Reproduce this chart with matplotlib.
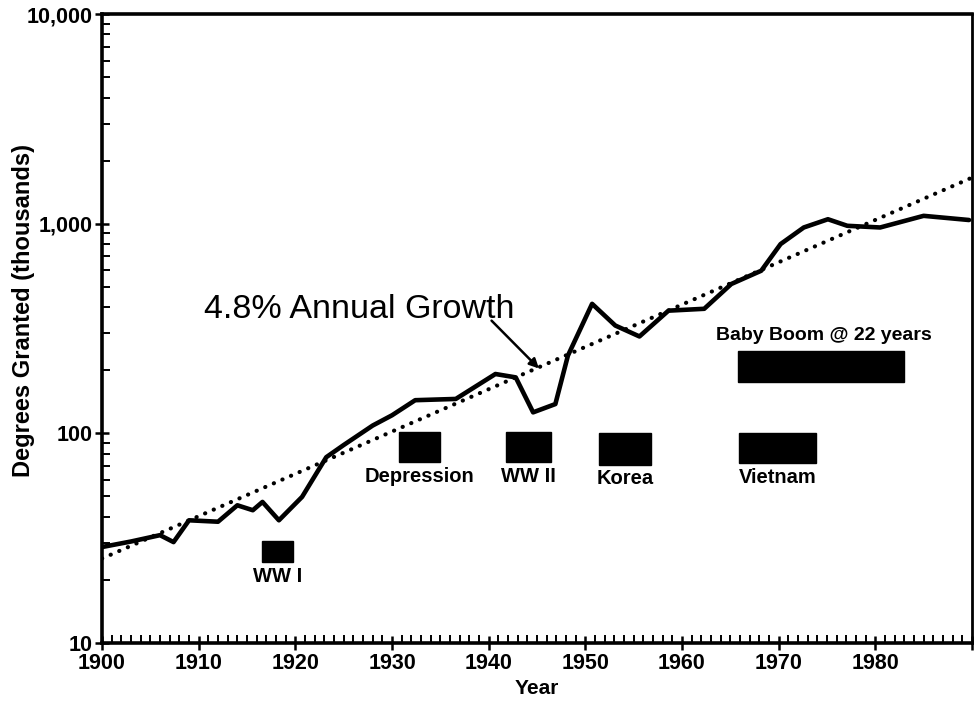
import matplotlib
matplotlib.use("Agg")
import matplotlib.pyplot as plt
from matplotlib.ticker import FixedLocator, FuncFormatter, MultipleLocator, LogLocator
from matplotlib.patches import Rectangle

plt.rcParams['font.family'] = ['Liberation Sans', 'DejaVu Sans']

# degrees granted (thousands)
years = [1900, 1903, 1906, 1907.4, 1909, 1912, 1914, 1915.6, 1916.6, 1918.3,
         1920.7, 1923.2, 1925, 1928, 1930, 1932.4, 1936.6, 1940.7, 1942.8, 1944.6,
         1946.9, 1948.2, 1950.7, 1953.1, 1955.6, 1958.6, 1962.3, 1965.1, 1968.2, 1970.2,
         1972.6, 1975.1, 1977.1, 1980.5, 1985, 1989.7]
degrees = [28.7, 30.5, 32.7, 30.3, 38.5, 37.9, 45.4, 43, 47.1, 38.5,
           49.8, 77, 88, 109, 122, 144, 146, 192, 185, 126,
           138, 235, 415, 327, 290, 385, 393, 516, 597, 800,
           960, 1051, 978, 960, 1091, 1042]

# 4.8% annual growth trend line end points
trend_years = [1900, 1990]
trend_vals = [25.3, 1660]

# event bars: label, start, end, low, high
events = ["WW I", "Depression", "WW II", "Korea", "Vietnam", "Baby Boom @ 22 years"]
ev_start = [1916.6, 1930.7, 1941.8, 1951.4, 1965.9, 1965.8]
ev_end = [1919.8, 1935.0, 1946.4, 1956.8, 1973.9, 1983.0]
ev_low = [24.3, 73, 73, 71, 72, 175]
ev_high = [30.6, 101, 102, 100, 100, 247]

fig = plt.figure(figsize=(9.8, 7.07), dpi=100)
ax = fig.add_axes([0.1041, 0.0905, 0.8877, 0.8895])

ax.set_yscale('log')
ax.set_xlim(1900, 1990)
ax.set_ylim(10, 10000)

ax.plot(years, degrees, color='black', lw=3.3, solid_joinstyle='round', solid_capstyle='round', zorder=3)
ax.plot(trend_years, trend_vals, color='black', lw=3.0, linestyle=(0, (0.05, 2.2)),
        dash_capstyle='round', zorder=2)

bold = dict(fontsize=14.5, fontweight='bold', ha='center', va='top')
for i, name in enumerate(events):
    ax.add_patch(Rectangle((ev_start[i], ev_low[i]), ev_end[i] - ev_start[i], ev_high[i] - ev_low[i],
                           facecolor='black', edgecolor='black', zorder=2))
    xc = (ev_start[i] + ev_end[i]) / 2
    if i == 5:
        ax.text(1974.7, ev_high[i] * 1.08, name, fontsize=14, fontweight='bold', ha='center', va='bottom')
    else:
        ax.text(xc, ev_low[i] * 0.95, name, **bold)

ax.text(1910.6, 357, "4.8% Annual Growth", fontsize=24.5, ha='left', va='baseline')
ax.annotate("", xy=(1945.2, 204), xytext=(1940.3, 345),
            arrowprops=dict(arrowstyle='-|>', color='black', lw=1.8, mutation_scale=14,
                            shrinkA=0, shrinkB=0))

for s in ax.spines.values():
    s.set_linewidth(2.6)
ax.spines['right'].set_linewidth(2.0)

ax.xaxis.set_major_locator(MultipleLocator(10))
ax.xaxis.set_minor_locator(MultipleLocator(1))
ax.xaxis.set_major_formatter(FuncFormatter(lambda v, p: "%d" % v if v < 1990 else ""))
ax.yaxis.set_major_locator(FixedLocator([10, 100, 1000, 10000]))
ax.yaxis.set_minor_locator(LogLocator(base=10, subs=range(2, 10)))
ax.yaxis.set_major_formatter(FuncFormatter(lambda v, p: "{:,}".format(int(v))))
ax.yaxis.set_minor_formatter(FuncFormatter(lambda v, p: ""))

ax.tick_params(axis='both', which='major', direction='inout', length=10, width=1.8,
               labelsize=15.5, pad=2)
ax.tick_params(axis='both', which='minor', direction='in', length=6, width=1.4)
for lab in ax.get_xticklabels() + ax.get_yticklabels():
    lab.set_fontweight('bold')

ax.set_xlabel("Year", fontsize=15, fontweight='bold', labelpad=4)
ax.set_ylabel("Degrees Granted (thousands)", fontsize=17, fontweight='bold')
ax.yaxis.set_label_coords(-0.077, 0.528)

fig.savefig("out.png", dpi=100)
